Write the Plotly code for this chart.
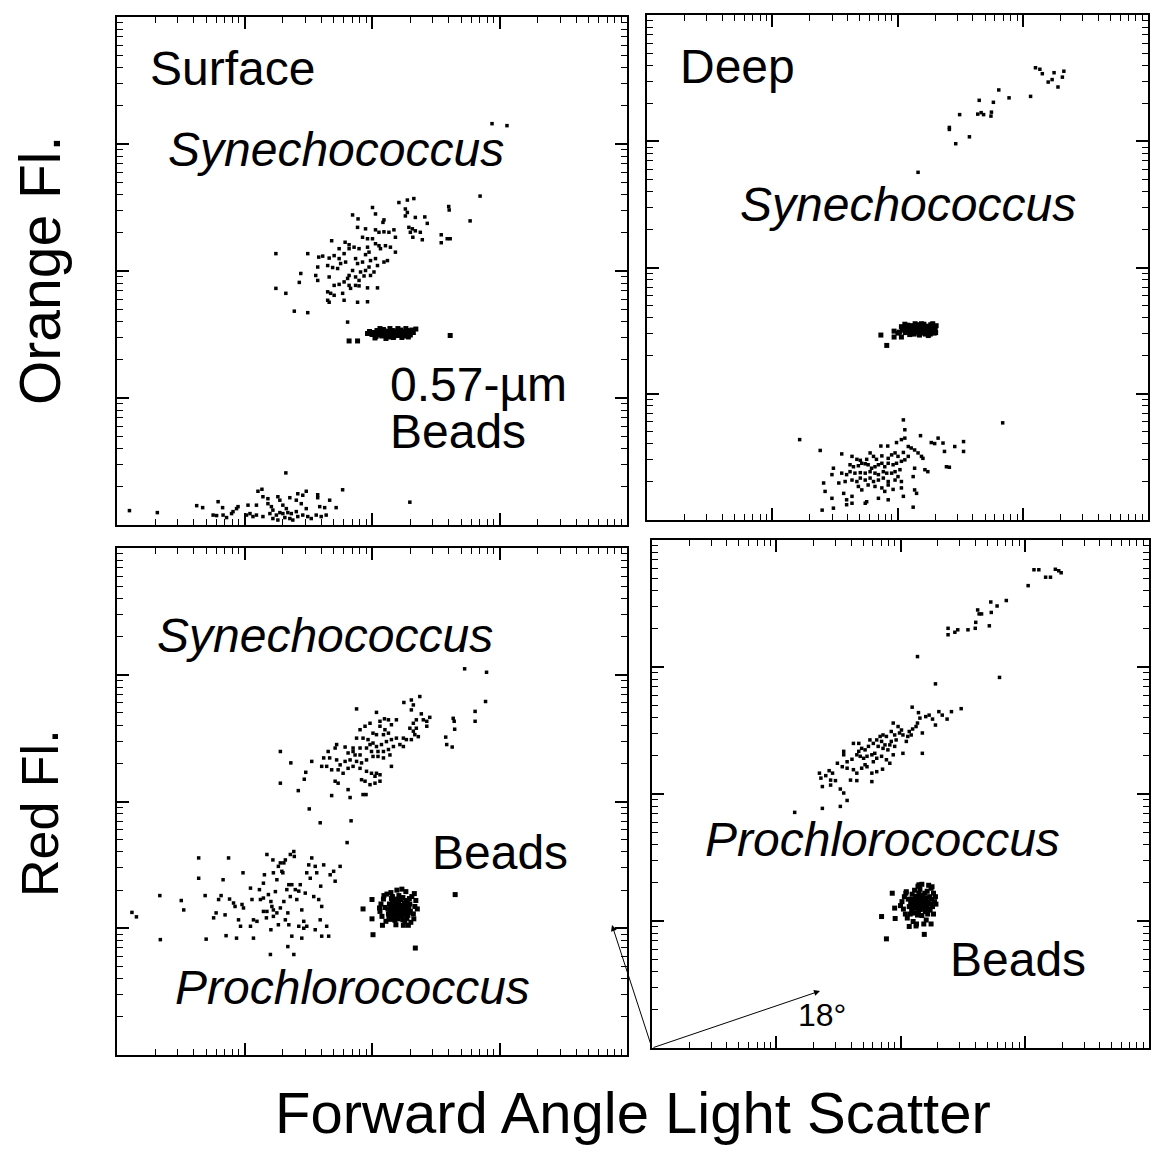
import numpy as np
import plotly.graph_objects as go

W, H = 1159, 1157
OFF = 8  # page body margin that the figure sits in
FW, FH = W - 2 * OFF, H - 2 * OFF  # keep the page from scrolling

# flow cytometer channel values (0-1024, 256 channels per decade)
# each pair is (forward angle light scatter, fluorescence)

# Surface sample, orange fluorescence
surf_org_syn = [(753,809),(783,805),(729,663),(666,642),(667,635),(709,613),(651,585),(663,577),(669,577),(651,569),
    (319,547),(383,547),(319,477),(339,467),(356,431),(383,428),(463,409),
    (566,650),(583,655),(596,658),(513,640),(473,625),(484,617),(519,627),(536,615),(534,610),(579,637),
    (583,630),(579,623),(599,620),(618,621),(623,608),(499,597),(483,600),(519,595),(526,590),(536,591),
    (546,590),(556,595),(559,580),(586,600),(593,597),(589,590),(599,593),(609,590),(594,580),(613,575),
    (431,573),(493,580),(503,577),(513,577),(519,567),(526,563),(529,557),(539,563),(549,560),(559,550),
    (506,550),(499,545),(486,557),(476,560),(466,557),(456,547),(446,557),(436,543),(426,538),(413,542),
    (405,540),(423,523),(433,519),(443,517),(449,527),(459,530),(479,537),(483,527),(493,530),(509,533),
    (519,537),(523,523),(536,530),(543,533),(506,520),(499,513),(489,510),(473,513),(466,503),(463,497),
    (479,500),(486,493),(496,502),(509,503),(516,510),(426,500),(436,483),(446,485),(456,490),(466,483),
    (469,477),(479,483),(486,482),(503,478),(523,478),(423,470),(429,467),(436,463),(453,467),(423,453),
    (426,449),(456,453),(483,449),(503,450),(403,493),(369,507),(366,489),(403,520),(399,503),(458,570),
    (446,537),(503,560),(466,565)]
surf_org_beads = [(466,371),(483,371),(503,386),(669,382),
    (512,384),(516,388),(520,380),(522,392),(526,385),(530,389),(532,381),(535,394),(538,386),(541,383),
    (544,390),(546,379),(549,387),(551,384),(553,392),(556,381),(558,388),(560,385),(562,391),(565,382),
    (567,387),(569,384),(571,390),(574,386),(576,381),(578,389),(581,385),(583,392),(586,387),(589,383),
    (592,393),(518,377),(528,396),(540,376),(548,396),(555,378),(564,396),(572,378),(580,396),(590,389),
    (524,383),(534,388),(543,385),(552,389),(561,383),(570,393),(579,382),(585,379),(595,388),(507,390),
    (600,395),(548,381),(557,386),(566,389),(537,391)]
surf_org_pro = [(25,29),(81,25),(339,105),(453,71),(283,68),(291,72),(363,63),(380,68),(373,60),(403,61),
    (403,55),(427,50),(347,55),(360,50),(323,57),(327,50),(203,47),(160,39),(172,35),(212,35),(243,37),
    (240,33),(263,40),(280,40),(303,43),(310,37),(313,30),(333,40),(340,33),(370,43),(380,33),(407,37),
    (417,35),(440,35),(233,27),(230,23),(193,20),(200,19),(213,20),(220,15),(260,20),(267,23),(273,17),
    (280,20),(293,17),(307,23),(320,20),(327,25),(333,23),(343,25),(350,23),(360,27),(337,15),(347,13),
    (363,17),(373,20),(383,17),(390,13),(400,20),(410,17),(420,20),(313,13),(323,10),(353,10),(293,57),
    (303,53),(588,46)]

# Deep sample, orange fluorescence
deep_org_syn = [(794,917),(803,914),(808,905),(832,907),(852,910),(849,898),(828,893),(820,888),(840,878),
    (784,859),(740,856),(719,872),(708,847),(679,851),(676,823),(683,826),(688,822),(704,827),(703,819),
    (639,822),(618,796),(618,792),(659,777),(631,763),(554,705)]
deep_org_beads = [(478,375),(490,354),(505,383),(513,379),(505,371),(520,371),
    (522,385),(525,391),(528,380),(530,388),(533,395),(535,383),(538,390),(540,378),(542,386),(545,393),
    (547,381),(549,389),(552,396),(554,384),(556,379),(558,391),(560,387),(562,394),(565,382),(567,389),
    (569,377),(571,386),(573,393),(576,380),(578,388),(580,396),(582,384),(585,390),(587,379),(589,387),
    (591,394),(527,397),(537,376),(548,398),(557,375),(566,397),(575,374),(584,398),(590,380),(533,386),
    (543,389),(551,382),(559,385),(568,392),(577,385),(586,383),(539,394),(546,377),(555,390),(563,379),
    (572,381),(581,392),(529,384),(550,393),(570,384),(588,391),(544,384),(561,398),(579,377),(520,392),
    (516,381)]
deep_org_pro = [(524,203),(527,183),(559,171),(312,163),(354,141),(478,150),(492,150),(510,157),(520,163),
    (527,166),(581,157),(595,166),(605,156),(588,155),(608,139),(629,149),(647,159),(647,139),(727,197),
    (398,134),(419,129),(429,123),(436,121),(449,123),(456,136),(463,129),(469,123),(480,130),(493,125),
    (500,132),(507,136),(513,129),(524,137),(534,149),(540,146),(547,142),(554,136),(561,129),(564,125),
    (534,129),(527,122),(520,119),(510,115),(503,112),(493,115),(486,108),(480,115),(473,112),(466,108),
    (459,105),(452,112),(446,114),(439,115),(432,110),(422,108),(415,112),(381,105),(378,92),(398,95),
    (408,92),(415,98),(425,95),(436,96),(446,95),(456,98),(466,95),(473,92),(483,98),(490,95),(500,95),
    (507,98),(517,102),(547,105),(612,108),(618,107),(568,102),(574,98),(361,75),(364,58),(392,75),
    (405,78),(419,81),(429,78),(436,85),(446,81),(456,85),(463,78),(473,81),(483,85),(493,78),(507,81),
    (513,88),(520,78),(544,88),(432,68),(439,61),(452,71),(466,68),(480,65),(493,71),(503,62),(520,65),
    (547,61),(378,44),(402,54),(408,41),(419,48),(446,34),(473,44),(486,58),(493,41),(524,48),(551,54),
    (358,20),(381,24),(408,31),(419,34),(449,37),(544,26)]

# Surface sample, red fluorescence
surf_red_syn = [(698,780),(742,773),(740,714),(719,694),(719,674),(675,680),(677,674),(678,658),(660,642),
    (662,627),(673,622),(481,699),(328,613),(349,590),(328,549),(364,534),(379,571),(376,557),(391,593),
    (431,524),(464,536),(468,520),(494,526),(500,526),(386,497),(408,469),(470,473),
    (608,724),(591,717),(576,712),(595,707),(591,697),(611,689),(628,682),(622,674),(622,664),(615,677),
    (601,677),(595,670),(588,660),(601,660),(595,654),(598,647),(605,643),(591,637),(581,637),(575,640),
    (521,692),(537,679),(508,670),(528,674),(545,677),(561,677),(551,667),(528,664),(538,657),(545,650),
    (535,647),(521,647),(514,650),(498,664),(488,657),(481,640),(494,640),(504,637),(508,627),(514,630),
    (521,623),(531,627),(541,633),(551,637),(561,640),(568,627),(575,623),(555,623),(545,617),(535,613),
    (524,613),(511,613),(501,620),(488,620),(474,620),(458,622),(441,627),(438,620),(424,613),(415,600),
    (427,600),(441,596),(448,586),(458,593),(468,596),(478,606),(488,606),(481,593),(491,590),(501,596),
    (514,603),(524,603),(535,600),(548,606),(488,579),(474,583),(464,579),(454,569),(444,576),(431,576),
    (421,583),(411,583),(501,573),(511,569),(521,569),(528,566),(491,556),(498,553),(508,546),(518,549),
    (528,553),(438,553),(444,549),(518,563),(474,613),(464,610),(551,583)]
surf_red_pro = [(30,288),(39,279),(86,322),(87,233),(129,312),(134,293),(164,398),(164,357),(177,322),
    (179,234),(194,277),(199,287),(204,314),(209,322),(213,354),(217,283),(219,241),(224,398),(226,315),
    (234,307),(237,300),(240,236),(244,273),(248,260),(251,304),(253,368),(254,297),(268,337),(268,260),
    (271,314),(274,236),(274,273),(281,270),(286,334),(288,314),(294,317),(296,364),(301,405),(300,277),
    (309,253),(309,310),(311,300),(313,394),(314,293),(314,280),(318,330),(321,354),(324,381),(328,388),
    (331,371),(333,368),(335,388),(338,394),(341,334),(343,287),(345,344),(348,405),(348,320),(355,411),
    (356,401),(351,344),(358,334),(361,314),(365,331),(368,344),(371,293),(375,270),(378,327),(381,368),
    (385,384),(388,357),(391,398),(395,320),(398,381),(401,368),(405,314),(408,273),(409,341),(411,300),
    (415,384),(421,260),(425,240),(428,364),(435,371),(438,351),(448,381),(462,429),(335,310),(328,297),
    (321,287),(301,290),(294,290),(324,263),(338,273),(345,263),(365,260),(375,256),(381,260),(398,253),
    (351,240),(371,236),(411,240),(308,203),(355,203),(343,219),(294,347),(314,368),(304,324)]
surf_red_beads = [(512,314),(494,295),(512,275),(514,243),(599,216),(679,324),
    (545,285),(548,292),(550,300),(552,278),(553,308),(555,288),(557,296),(558,315),(560,282),(561,303),
    (563,290),(564,298),(565,275),(566,310),(568,285),(569,294),(570,302),(572,280),(573,289),(574,318),
    (575,297),(577,306),(578,284),(579,292),(581,300),(582,276),(583,312),(585,288),(586,296),(588,305),
    (547,305),(549,274),(551,316),(554,297),(556,283),(559,290),(562,312),(564,281),(567,300),(571,292),
    (576,288),(580,308),(584,282),(587,316),(544,295),(553,320),(566,322),(578,270),(589,290),(558,272),
    (570,314),(574,273),(561,296),(563,305),(567,292),(556,304),(572,298),(579,299),(551,292),(546,279),
    (528,290),(530,305),(532,280),(535,315),(538,298),(540,270),(536,322),(595,285),(598,300),(600,312),
    (596,275),(592,320),(590,268),(580,330),(572,335),(562,333),(550,328),(585,262),(575,262),(560,263),
    (603,295),(533,262),(527,297),(542,325),(597,326)]

# Deep sample, red fluorescence
deep_red_syn = [(787,964),(797,964),(811,949),(821,949),(831,965),(838,962),(843,958),(775,932),(730,902),
    (711,891),(698,899),(699,878),(671,883),(674,875),(679,875),(667,858),(695,851),(666,846),(651,843),
    (630,843),(624,838),(610,846),(610,833),(547,789),(716,747),(584,734)]
deep_red_pro = [(536,687),(637,684),(617,678),(591,678),(571,671),(564,668),(578,663),(598,671),(608,663),
    (584,651),(549,676),(552,665),(547,655),(557,635),(544,648),(537,643),(530,638),(527,628),(534,631),
    (524,618),(517,631),(514,641),(507,648),(497,655),(493,638),(500,631),(510,635),(503,621),(493,618),
    (483,628),(476,631),(470,628),(463,621),(473,618),(480,611),(490,611),(500,608),(486,601),(476,604),
    (466,608),(456,614),(449,621),(446,608),(439,601),(432,604),(426,598),(415,614),(429,588),(436,584),
    (443,588),(453,591),(459,594),(463,584),(456,577),(473,588),(483,581),(497,591),(517,594),(557,594),
    (426,614),(422,591),(412,582),(402,577),(395,591),(395,598),(382,574),(392,567),(402,564),(415,561),
    (422,554),(432,564),(439,571),(443,567),(453,554),(463,557),(475,562),(490,574),(372,554),(365,559),
    (345,554),(348,544),(358,549),(368,540),(378,539),(409,540),(422,539),(453,537),(351,527),(368,530),
    (388,522),(395,514),(402,499),(388,487),(351,483),(294,475)]
deep_red_beads = [(473,265),(495,312),(483,220),(561,229),(500,282),(501,261),(530,245),(544,246),(550,329),
    (523,312),
    (530,285),(533,292),(535,278),(537,300),(539,288),(540,272),(542,295),(543,306),(545,282),(546,290),
    (548,299),(549,276),(550,312),(551,286),(553,294),(554,303),(555,280),(557,290),(558,308),(560,284),
    (561,297),(563,275),(564,302),(566,289),(567,316),(569,295),(570,280),(572,305),(574,290),(575,322),
    (528,300),(532,270),(536,310),(541,318),(547,268),(552,320),(556,267),(562,312),(568,270),(573,278),
    (576,300),(578,285),(580,312),(582,295),(544,300),(538,282),(559,292),(565,284),(552,279),(547,305),
    (515,295),(518,280),(520,305),(522,270),(524,315),(526,262),(584,305),(580,270),(577,325),(570,328),
    (565,258),(556,330),(548,326),(538,255),(545,250),(560,250),(575,250),(585,290),(512,287)]


def to_linear(pairs):
    # 4-decade log amplifier: 256 channels per decade
    ch = np.array(pairs, dtype=float)
    return np.power(10.0, ch[:, 0] / 256.0), np.power(10.0, ch[:, 1] / 256.0)


def fx(px):
    return (px - OFF) / FW


def fy(py):
    return 1 - (py - OFF) / FH


# panel frames in screen pixels (left, right, top, bottom)
frames = {
    1: (117, 627, 17, 525),
    2: (647, 1148, 15, 520),
    3: (117, 627, 548, 1055),
    4: (652, 1149, 540, 1048),
}

panel_data = {
    1: [surf_org_syn, surf_org_pro],
    2: [deep_org_syn, deep_org_pro],
    3: [surf_red_syn, surf_red_pro],
    4: [deep_red_syn, deep_red_pro],
}
panel_beads = {1: surf_org_beads, 2: deep_org_beads, 3: surf_red_beads, 4: deep_red_beads}

fig = go.Figure()


def sfx(n):
    return '' if n == 1 else str(n)


for k in frames:
    for g in panel_data[k]:
        x, y = to_linear(g)
        fig.add_trace(go.Scatter(x=x, y=y, mode='markers', xaxis='x' + sfx(k), yaxis='y' + sfx(k),
                                 marker=dict(color='black', size=3.5, symbol='square', line=dict(width=0)),
                                 showlegend=False, hoverinfo='skip'))
    x, y = to_linear(panel_beads[k])
    fig.add_trace(go.Scatter(x=x, y=y, mode='markers', xaxis='x' + sfx(k), yaxis='y' + sfx(k),
                             marker=dict(color='black', size=5, symbol='square', line=dict(width=0)),
                             showlegend=False, hoverinfo='skip'))
    # invisible anchor for the mirrored tick axes on the top and right
    fig.add_trace(go.Scatter(x=[10], y=[10], mode='markers', xaxis='x' + str(k + 4), yaxis='y' + str(k + 4),
                             marker=dict(opacity=0), showlegend=False, hoverinfo='skip'))

tick_style = dict(type='log', range=[0, 4], dtick=1, showgrid=False, zeroline=False,
                  showticklabels=False, ticks='inside', ticklen=12, tickwidth=1.5, tickcolor='black',
                  minor=dict(ticks='inside', ticklen=6, tickwidth=1.2, tickcolor='black',
                             dtick='D1', showgrid=False))

layout = dict(width=FW, height=FH, margin=dict(l=0, r=0, t=0, b=0), autosize=False,
              paper_bgcolor='white', plot_bgcolor='white', showlegend=False)
for k, (l, r, t, b) in frames.items():
    s = sfx(k)
    layout['xaxis' + s] = dict(tick_style, domain=[fx(l), min(fx(r), 1.0)], anchor='y' + s,
                               showline=True, linecolor='black', linewidth=2, mirror=True)
    layout['yaxis' + s] = dict(tick_style, domain=[fy(b), fy(t)], anchor='x' + s,
                               showline=True, linecolor='black', linewidth=2, mirror=True)
    m = str(k + 4)
    layout['xaxis' + m] = dict(tick_style, overlaying='x' + s, side='top', anchor='y' + m, showline=False)
    layout['yaxis' + m] = dict(tick_style, overlaying='y' + s, side='right', anchor='x' + m, showline=False)

fig.update_layout(**layout)

FONT = 'Liberation Sans, Arial, Helvetica, sans-serif'


def label(text, px, py, size=48, xanchor='left', angle=0):
    fig.add_annotation(text=text, x=fx(px), y=fy(py), xref='paper', yref='paper',
                       xanchor=xanchor, yanchor='middle', showarrow=False, textangle=angle,
                       font=dict(family=FONT, size=size, color='black'))


label('Surface', 148, 68)
label('<i>Synechococcus</i>', 166, 149)
label('0.57-µm', 388, 384)
label('Beads', 388, 431)
label('Deep', 678, 66)
label('<i>Synechococcus</i>', 738, 204)
label('<i>Synechococcus</i>', 155, 636)
label('Beads', 430, 852)
label('<i>Prochlorococcus</i>', 173, 987)
label('<i>Prochlorococcus</i>', 703, 839)
label('Beads', 948, 959)
label('18°', 796, 1015, size=32)
label('Orange Fl.', 40, 271, size=57, xanchor='center', angle=-90)
label('Red Fl.', 40, 813, size=52, xanchor='center', angle=-90)
label('Forward Angle Light Scatter', 633, 1112, size=58, xanchor='center')

# scatter-angle arrows from the corner of the lower right panel
for hx, hy in [(820, 991), (612, 925)]:
    fig.add_annotation(x=fx(hx), y=fy(hy), xref='paper', yref='paper', text='',
                       showarrow=True, arrowhead=2, arrowsize=1.2, arrowwidth=1, arrowcolor='black',
                       ax=652 - hx, ay=1048 - hy)

fig.write_html("out.html")
